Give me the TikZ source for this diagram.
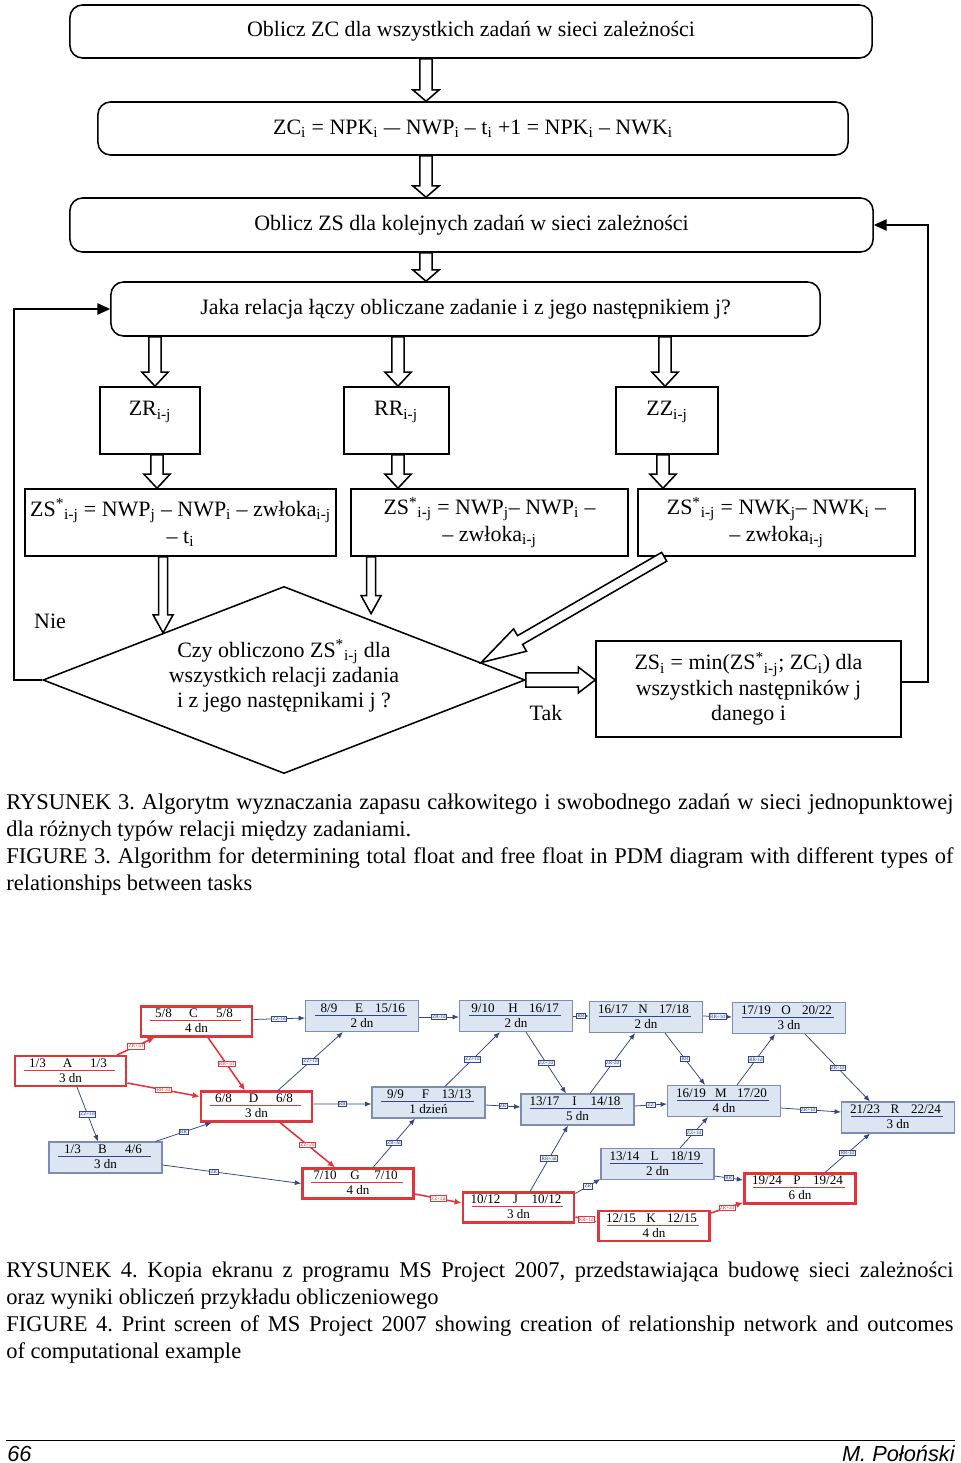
\documentclass[tikz,border=0pt]{standalone}
\usepackage{fontspec}
\setmainfont{Liberation Serif}
\newfontfamily\footfont{Liberation Sans}
\usetikzlibrary{shapes.geometric,arrows.meta,calc}
\frenchspacing
\definecolor{netred}{HTML}{E3343C}
\definecolor{netblue}{HTML}{34468A}
\definecolor{boxfill}{HTML}{DCE6F2}
\definecolor{boxline}{HTML}{7D8DB2}
\definecolor{lblfill}{HTML}{EEF2FA}
\newcommand{\ffont}{\fontsize{15.6}{19.2}\selectfont}
\newcommand{\blockarrow}[5]{%
  \draw[hollowarr] let \p1=#1, \p2=#2, \n1={atan2(\y2-\y1,\x2-\x1)}, \n2={veclen(\x2-\x1,\y2-\y1)} in
    [shift={(\p1)}, rotate=\n1]
    (0pt,#3) -- ({\n2-#5},#3) -- ({\n2-#5},#4) -- (\n2,0pt) -- ({\n2-#5},-#4) -- ({\n2-#5},-#3) -- (0pt,-#3) -- cycle;}
\newcommand{\netbox}[8]{%
  \node[t#8] (#1) at (#2,#3) {};%
  \node[ttxt] (#1l) at ($(#1.north)+(-33,8)$) {#4};%
  \node[ttxt] (#1c) at ($(#1.north)+(-3,8)$) {#5};%
  \node[ttxt] (#1r) at ($(#1.north)+(28,8)$) {#6};%
  \draw[sep#8] ($(#1.north west)+(10,15)$) -- ($(#1.north east)+(-12,15)$);%
  \node[ttxt] (#1d) at ($(#1.north)+(0,23)$) {#7};%
}
\tikzset{
  hollowarr/.style={draw, line width=1.1pt, fill=white, line join=miter},
  fbox/.style={draw, line width=1.1pt, rounded corners=9pt, inner sep=0pt, font=\ffont, align=center},
  sbox/.style={draw, line width=1.1pt, inner sep=0pt, font=\ffont, align=center},
  ftxt/.style={inner sep=0pt, font=\ffont, align=center},
  fline/.style={draw, line width=1.1pt, -{Triangle[length=9pt,width=8pt]}},
  tblue/.style={draw=boxline, fill=boxfill, line width=0.8pt, minimum width=2.825cm, minimum height=0.775cm, inner sep=0pt},
  tred/.style={draw=netred, fill=white, line width=1.8pt, minimum width=2.78cm, minimum height=0.74cm, inner sep=0pt},
  ttxt/.style={font=\fontsize{9.3}{10}\selectfont, inner sep=0pt},
  sepblue/.style={draw=netblue, line width=0.6pt},
  sepred/.style={draw=netred, line width=0.6pt},
  eblue/.style={draw=netblue, line width=0.55pt, -{Latex[length=4.5pt,width=3.6pt]}},
  ered/.style={draw=netred, line width=1.1pt, -{Latex[length=5pt,width=4.4pt]}},
  lblue/.style={draw=netblue, fill=lblfill, text=netblue, font=\fontsize{3.6}{4}\selectfont, inner sep=0.7pt, line width=0.4pt},
  lred/.style={draw=netred, fill=white, text=netred, font=\fontsize{3.6}{4}\selectfont, inner sep=0.7pt, line width=0.4pt},
  captext/.style={inner sep=0pt, font=\fontsize{16}{19.2}\selectfont, text width=23.675cm, align=justify, anchor=north west},
  foot/.style={inner sep=0pt, font=\footfont\itshape\fontsize{15.5}{18}\selectfont}
}
\begin{document}
\begin{tikzpicture}[x=0.025cm, y=-0.025cm]
\useasboundingbox (0,0) rectangle (960,1463);
\fill[white] (0,0) rectangle (960,1463);

% ---------- flowchart ----------
\node[fbox, minimum width=20.05cm, minimum height=1.325cm] (b1) at (471,31.5) {Oblicz ZC dla wszystkich zadań w sieci zależności};
\node[fbox, minimum width=18.75cm, minimum height=1.325cm] (b2) at (473,128.5) {ZC\textsubscript{i} = NPK\textsubscript{i} \scalebox{0.75}[1]{—} NWP\textsubscript{i} – t\textsubscript{i} +1 = NPK\textsubscript{i} – NWK\textsubscript{i}};
\node[fbox, minimum width=20.075cm, minimum height=1.35cm] (b3) at (471.5,225) {Oblicz ZS dla kolejnych zadań w sieci zależności};
\node[fbox, minimum width=17.725cm, minimum height=1.35cm] (b4) at (465.5,309) {Jaka relacja łączy obliczane zadanie i z jego następnikiem j?};

\node[sbox, minimum width=2.5cm, minimum height=1.675cm] (zr) at (150,420.5) {};
\node[ftxt] (zrt) at (150,412) {ZR\textsubscript{i-j}};
\node[sbox, minimum width=2.625cm, minimum height=1.675cm] (rr) at (396.5,420.5) {};
\node[ftxt] (rrt) at (396,412) {RR\textsubscript{i-j}};
\node[sbox, minimum width=2.55cm, minimum height=1.675cm] (zz) at (667,420.5) {};
\node[ftxt] (zzt) at (667,412) {ZZ\textsubscript{i-j}};

\node[sbox, minimum width=7.775cm, minimum height=1.675cm] (fA) at (180.5,522.5) {ZS\textsuperscript{*}\textsubscript{i-j} = NWP\textsubscript{j} – NWP\textsubscript{i} – zwłoka\textsubscript{i-j}\\– t\textsubscript{i}};
\node[sbox, minimum width=6.925cm, minimum height=1.675cm] (fB) at (489.5,522.5) {ZS\textsuperscript{*}\textsubscript{i-j} = NWP\textsubscript{j}– NWP\textsubscript{i} –\\– zwłoka\textsubscript{i-j}};
\node[sbox, minimum width=6.925cm, minimum height=1.675cm] (fC) at (776.5,522.5) {ZS\textsuperscript{*}\textsubscript{i-j} = NWK\textsubscript{j}– NWK\textsubscript{i} –\\– zwłoka\textsubscript{i-j}};

\node[draw, diamond, line width=1.1pt, minimum width=12.05cm, minimum height=4.675cm, inner sep=0pt] (q) at (284,680) {};
\node[ftxt, font=\fontsize{15.6}{17.8}\selectfont] (qt) at (284,676) {Czy obliczono ZS\textsuperscript{*}\textsubscript{i-j} dla\\wszystkich relacji zadania\\i z jego następnikami j ?};

\node[sbox, minimum width=7.625cm, minimum height=2.4cm, font=\fontsize{15.6}{18.1}\selectfont] (dD) at (748.5,689) {ZS\textsubscript{i} = min(ZS\textsuperscript{*}\textsubscript{i-j}; ZC\textsubscript{i}) dla\\wszystkich następników j\\danego i};

\node[ftxt] (nie) at (50,621) {Nie};
\node[ftxt] (tak) at (546,713) {Tak};

\coordinate (q2) at ($(q.north)!0.72!(q.north east)+(0,-6)$);
\coordinate (q3) at ($(q.north)!0.815!(q.east)$);
\coordinate (lft) at (14,0);
\coordinate (rgt) at (928,0);

% hollow block arrows
\blockarrow{(426,0 |- b1.south)}{(426,0 |- b2.north)}{4.3pt}{9.3pt}{8pt}
\blockarrow{(426,0 |- b2.south)}{(426,0 |- b3.north)}{4.3pt}{9.3pt}{8pt}
\blockarrow{(426,0 |- b3.south)}{(426,0 |- b4.north)}{4.3pt}{9.3pt}{8pt}
\blockarrow{(155,0 |- b4.south)}{(155,0 |- zr.north)}{4.3pt}{9.3pt}{10pt}
\blockarrow{(398,0 |- b4.south)}{(398,0 |- rr.north)}{4.3pt}{9.3pt}{10pt}
\blockarrow{(665,0 |- b4.south)}{(665,0 |- zz.north)}{4.3pt}{9.3pt}{10pt}
\blockarrow{(157,0 |- zr.south)}{(157,0 |- fA.north)}{4.3pt}{9.3pt}{10pt}
\blockarrow{(398,0 |- rr.south)}{(398,0 |- fB.north)}{4.3pt}{9.3pt}{10pt}
\blockarrow{(663,0 |- zz.south)}{(663,0 |- fC.north)}{4.3pt}{9.3pt}{10pt}
\blockarrow{(q.north west |- fA.south)}{(q.north west)}{3.2pt}{7.1pt}{12.8pt}
\blockarrow{(q2 |- fB.south)}{(q2)}{3.2pt}{7.1pt}{12.8pt}
\blockarrow{($(fC.south west)+(27,0)$)}{(q3)}{3.6pt}{9.2pt}{32pt}
\blockarrow{(q.east)}{(q.east -| dD.west)}{5pt}{9.2pt}{12pt}

% feedback lines
\draw[fline] ($(dD.east)+(0,-7)$) -- ($(dD.east -| rgt)+(0,-7)$) |- (b3.east);
\draw[fline] (q.west) -- (q.west -| lft) |- (b4.west);

% captions
\node[captext] (cap3) at (6,790) {\strut RYSUNEK 3. Algorytm wyznaczania zapasu całkowitego i swobodnego zadań w sieci jednopunktowej\linebreak dla różnych typów relacji między zadaniami.\\FIGURE 3. Algorithm for determining total float and free float in PDM diagram with different types of\linebreak relationships between tasks};

% ---------- network ----------
\netbox{A}{70.5}{1071}{1/3}{A}{1/3}{3 dn}{red}
\netbox{C}{196.5}{1021.5}{5/8}{C}{5/8}{4 dn}{red}
\netbox{B}{105.5}{1157.5}{1/3}{B}{4/6}{3 dn}{blue}
\netbox{D}{256.5}{1106.5}{6/8}{D}{6/8}{3 dn}{red}
\netbox{E}{362}{1016}{8/9}{E}{15/16}{2 dn}{blue}
\netbox{F}{428.5}{1102.5}{9/9}{F}{13/13}{1 dzień}{blue}
\netbox{G}{358}{1183.5}{7/10}{G}{7/10}{4 dn}{red}
\netbox{H}{516}{1016}{9/10}{H}{16/17}{2 dn}{blue}
\netbox{I}{577.5}{1109.5}{13/17}{I}{14/18}{5 dn}{blue}
\netbox{J}{518.5}{1207.5}{10/12}{J}{10/12}{3 dn}{red}
\netbox{N}{646}{1017}{16/17}{N}{17/18}{2 dn}{blue}
\netbox{L}{657.5}{1164}{13/14}{L}{18/19}{2 dn}{blue}
\netbox{K}{654}{1226}{12/15}{K}{12/15}{4 dn}{red}
\netbox{M}{724}{1101}{16/19}{M}{17/20}{4 dn}{blue}
\netbox{O}{789}{1018}{17/19}{O}{20/22}{3 dn}{blue}
\netbox{P}{800}{1188.5}{19/24}{P}{19/24}{6 dn}{red}
\netbox{R}{898}{1117.5}{21/23}{R}{22/24}{3 dn}{blue}

% critical (red) links
\draw[ered] ($(A.north)+(46.5,0)$) -- node[lred] (lAC) {ZR+1d} ($(C.south west)+(15,0)$);
\draw[ered] ($(A.east)+(0,12)$) -- node[lred] (lAD) {RR-2d} ($(D.west)+(0,-10)$);
\draw[ered] ($(C.south)+(11.5,0)$) -- node[lred] (lCD) {RR+1d} ($(D.north)+(-11.5,0)$);
\draw[ered] ($(D.south)+(23.5,0)$) -- node[lred] (lDG) {ZZ+2d} ($(G.north)+(-23,0)$);
\draw[ered] ($(G.east)+(0,10.5)$) -- node[lred] (lGJ) {ZZ+2d} ($(J.west)+(0,-4.5)$);
\draw[ered] ($(J.east)+(0,9.5)$) -- node[lred] (lJK) {RR+1d} ($(K.west)+(0,-4)$);
\draw[ered] ($(K.north east)+(0,3)$) -- node[lred] (lKP) {ZR+2d} ($(P.south west)+(0,-2)$);

% other (blue) links
\draw[eblue] ($(C.east)+(0,-2)$) -- node[lblue] (lCE) {ZZ-1d} ($(E.west)+(0,2)$);
\draw[eblue] ($(A.south)+(6.5,0)$) -- node[lblue] (lAB) {ZZ+1d} ($(B.north)+(-7.5,0)$);
\draw[eblue] ($(B.north east)+(-7,0)$) -- node[lblue] (lBD) {RR} ($(D.south west)+(12,0)$);
\draw[eblue] ($(B.east)+(0,7.5)$) -- node[lblue, pos=0.37] (lBG) {ZR} (G.west);
\draw[eblue] ($(D.north)+(21.5,0)$) -- node[lblue] (lDE) {ZZ+1d} ($(E.south)+(-19,0)$);
\draw[eblue] ($(D.east)+(0,-2.5)$) -- node[lblue] (lDF) {RR} ($(F.west)+(0,1.5)$);
\draw[eblue] ($(G.north)+(15,0)$) -- node[lblue] (lGF) {ZR-3d} ($(F.south)+(-13.5,0)$);
\draw[eblue] ($(E.east)+(0,1)$) -- node[lblue] (lEH) {ZR-1d} ($(H.west)+(0,1)$);
\draw[eblue] ($(F.north)+(16.5,0)$) -- node[lblue] (lFH) {ZZ+1d} ($(H.south)+(-16,0)$);
\draw[eblue] ($(F.east)+(0,2.5)$) -- node[lblue] (lFI) {ZR} ($(I.west)+(0,-2.5)$);
\draw[eblue] ($(H.south)+(10,0)$) -- node[lblue] (lHI) {ZZ+1d} ($(I.north)+(-11.5,0)$);
\draw[eblue] ($(J.north)+(11.5,0)$) -- node[lblue] (lJI) {RR+3d} ($(I.south)+(-9.5,0)$);
\draw[eblue] ($(J.north east)+(0,2)$) -- node[lblue] (lJL) {ZR} ($(L.south west)+(0,-1)$);
\draw[eblue] (H.east) -- node[lblue] (lHN) {RR} ($(N.west)+(0,-1)$);
\draw[eblue] ($(I.north)+(12.5,0)$) -- node[lblue] (lIN) {ZR-2d} ($(N.south)+(-11,0)$);
\draw[eblue] ($(N.south)+(19,0)$) -- node[lblue] (lNM) {RR} ($(M.north)+(-19,0)$);
\draw[eblue] ($(N.east)+(0,-1)$) -- node[lblue] (lNO) {RR+1d} ($(O.west)+(0,-1)$);
\draw[eblue] ($(I.east)+(0,-3.5)$) -- node[lblue] (lIM) {ZZ} ($(M.west)+(0,3)$);
\draw[eblue] ($(L.north)+(22.5,0)$) -- node[lblue] (lLM) {ZZ+1d} ($(M.south)+(-16,0)$);
\draw[eblue] ($(M.north)+(13,0)$) -- node[lblue] (lMO) {RR-1d} ($(O.south)+(-14,0)$);
\draw[eblue] ($(M.east)+(0,7)$) -- node[lblue, pos=0.45] (lMR) {ZR+1d} ($(R.west)+(0,-5.5)$);
\draw[eblue] ($(O.south)+(16,0)$) -- node[lblue] (lOR) {ZR-1d} ($(R.north)+(-28,0)$);
\draw[eblue] ($(L.east)+(0,12)$) -- node[lblue] (lLP) {RR} ($(P.west)+(0,-8.5)$);
\draw[eblue] ($(P.north)+(25,0)$) -- node[lblue] (lPR) {RR-1d} ($(R.south)+(-28,0)$);

\node[captext] (cap4) at (6,1258) {\strut RYSUNEK 4. Kopia ekranu z programu MS Project 2007, przedstawiająca budowę sieci zależności\linebreak oraz wyniki obliczeń przykładu obliczeniowego\\FIGURE 4. Print screen of MS Project 2007 showing creation of relationship network and outcomes\linebreak of computational example};

% footer
\draw[line width=0.7pt] (6,1440) -- (955,1440);
\node[foot, anchor=base west] (pg) at (7,1461) {66};
\node[foot, anchor=base east] (au) at (955,1461) {M. Połoński};
\end{tikzpicture}
\end{document}
